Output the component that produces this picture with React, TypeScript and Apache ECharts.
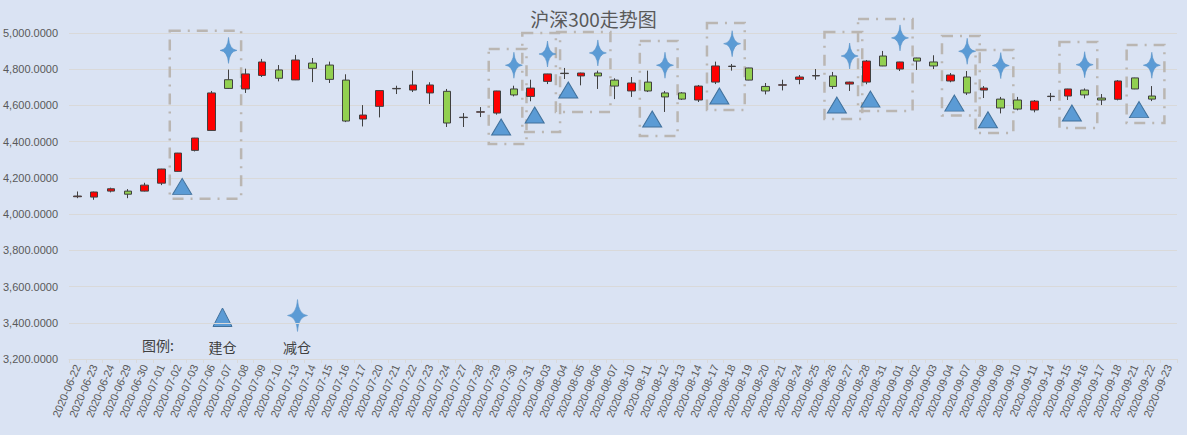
import React, { useEffect, useRef } from 'react';
import * as echarts from 'echarts';

const title = '沪深300走势图';

const dates = [
  '2020-06-22', '2020-06-23', '2020-06-24', '2020-06-29', '2020-06-30',
  '2020-07-01', '2020-07-02', '2020-07-03', '2020-07-06', '2020-07-07', '2020-07-08', '2020-07-09', '2020-07-10',
  '2020-07-13', '2020-07-14', '2020-07-15', '2020-07-16', '2020-07-17', '2020-07-20', '2020-07-21', '2020-07-22',
  '2020-07-23', '2020-07-24', '2020-07-27', '2020-07-28', '2020-07-29', '2020-07-30', '2020-07-31',
  '2020-08-03', '2020-08-04', '2020-08-05', '2020-08-06', '2020-08-07', '2020-08-10', '2020-08-11', '2020-08-12',
  '2020-08-13', '2020-08-14', '2020-08-17', '2020-08-18', '2020-08-19', '2020-08-20', '2020-08-21', '2020-08-24',
  '2020-08-25', '2020-08-26', '2020-08-27', '2020-08-28', '2020-08-31',
  '2020-09-01', '2020-09-02', '2020-09-03', '2020-09-04', '2020-09-07', '2020-09-08', '2020-09-09', '2020-09-10',
  '2020-09-11', '2020-09-14', '2020-09-15', '2020-09-16', '2020-09-17', '2020-09-18', '2020-09-21', '2020-09-22',
  '2020-09-23',
];

const opens = [
  4096, 4094, 4127, 4127, 4127,
  4171, 4236, 4352, 4462, 4742, 4691, 4766, 4796,
  4741, 4834, 4823, 4740, 4525, 4595, 4692, 4685,
  4669, 4678, 4533, 4563, 4558, 4691, 4650,
  4733, 4776, 4763, 4779, 4740, 4680, 4729, 4669,
  4669, 4630, 4729, 4815, 4807, 4705, 4712, 4744,
  4763, 4763, 4718, 4729, 4873,
  4801, 4862, 4840, 4735, 4757, 4685, 4635, 4630,
  4575, 4649, 4652, 4685, 4641, 4634, 4752, 4652,
  null,
];
const closes = [
  4100, 4122, 4140, 4110, 4160,
  4249, 4337, 4420, 4669, 4694, 4774, 4840, 4750,
  4851, 4805, 4744, 4514, 4547, 4682, 4694, 4713,
  4713, 4503, 4535, 4565, 4680, 4658, 4696,
  4774, 4778, 4779, 4763, 4707, 4724, 4680, 4647,
  4635, 4707, 4818, 4817, 4740, 4680, 4714, 4757,
  4765, 4705, 4729, 4845, 4818,
  4840, 4845, 4818, 4768, 4669, 4696, 4586, 4580,
  4624, 4651, 4691, 4658, 4630, 4735, 4691, 4635,
  null,
];
const lows = [
  4088, 4079, 4120, 4088, 4125,
  4160, 4234, 4346, 4460, 4691, 4669, 4757, 4733,
  4740, 4729, 4724, 4508, 4484, 4534, 4663, 4674,
  4608, 4481, 4481, 4536, 4549, 4650, 4623,
  4718, 4746, 4711, 4691, 4635, 4647, 4674, 4564,
  4630, 4619, 4718, 4792, 4739, 4661, 4683, 4717,
  4742, 4691, 4680, 4717, 4817,
  4790, 4796, 4801, 4728, 4658, 4641, 4556, 4573,
  4562, 4624, 4630, 4639, 4602, 4628, 4690, 4624,
  null,
];
const highs = [
  4125, 4124, 4146, 4138, 4173,
  4250, 4338, 4421, 4680, 4798, 4803, 4857, 4823,
  4879, 4862, 4842, 4772, 4602, 4683, 4709, 4792,
  4728, 4691, 4558, 4591, 4681, 4709, 4742,
  4775, 4807, 4781, 4792, 4750, 4757, 4792, 4680,
  4674, 4713, 4842, 4829, 4808, 4724, 4742, 4768,
  4801, 4785, 4731, 4851, 4901,
  4841, 4863, 4877, 4779, 4790, 4707, 4647, 4647,
  4630, 4669, 4692, 4694, 4663, 4740, 4753, 4707,
  null,
];

// 建仓 (build position) markers
const buyDates = [
  '2020-07-02', '2020-07-29', '2020-07-31', '2020-08-04', '2020-08-11', '2020-08-17',
  '2020-08-26', '2020-08-28', '2020-09-04', '2020-09-08', '2020-09-15', '2020-09-21',
];
const buyValues = [4153, 4481, 4547, 4685, 4525, 4652, 4602, 4635, 4613, 4521, 4558, 4577];

// 减仓 (reduce position) markers
const sellDates = [
  '2020-07-07', '2020-07-30', '2020-08-03', '2020-08-06', '2020-08-12', '2020-08-18',
  '2020-08-27', '2020-09-01', '2020-09-07', '2020-09-09', '2020-09-16', '2020-09-22',
];
const sellValues = [4904, 4822, 4884, 4890, 4822, 4941, 4873, 4973, 4899, 4820, 4825, 4822];

// dashed group boxes: start date, end date, low value, high value
const boxStarts = [
  '2020-07-02', '2020-07-29', '2020-07-31', '2020-08-04', '2020-08-11', '2020-08-17',
  '2020-08-26', '2020-08-28', '2020-09-04', '2020-09-08', '2020-09-15', '2020-09-21',
];
const boxEnds = [
  '2020-07-07', '2020-07-30', '2020-08-03', '2020-08-06', '2020-08-12', '2020-08-18',
  '2020-08-27', '2020-09-01', '2020-09-07', '2020-09-09', '2020-09-16', '2020-09-22',
];
const boxLows = [4085, 4387, 4453, 4564, 4431, 4575, 4525, 4569, 4545, 4448, 4475, 4503];
const boxHighs = [5013, 4912, 5000, 5006, 4956, 5055, 5006, 5077, 4983, 4906, 4950, 4934];

const yMin = 3200;
const yMax = 5000;
const yStep = 200;

const legendTitle = '图例:';
const buyName = '建仓';
const sellName = '减仓';

const STAR_D = 'M0,-16 Q1,-1 10,0 Q1,1 0,16 Q-1,1 -10,0 Q-1,-1 0,-16 Z';

let starRegistered = false;
function ensureStar() {
  if (starRegistered) return;
  echarts.graphic.registerShape('star4', echarts.graphic.extendPath(STAR_D, {}));
  starRegistered = true;
}

const FONT = "'Liberation Sans', 'Noto Sans CJK SC', sans-serif";
const CJK = "'Noto Sans CJK SC', sans-serif";
const BLUE = '#5B9BD5';
const BLUE_DARK = '#41719C';

export default function App() {
  const ref = useRef<HTMLDivElement>(null);

  useEffect(() => {
    if (!ref.current) return;
    ensureStar();
    const chart = echarts.init(ref.current, undefined, { renderer: 'svg' });

    const candleData = dates.map((_, i) =>
      opens[i] == null ? ['-', '-', '-', '-'] : [opens[i], closes[i], lows[i], highs[i]]
    );
    const buyData = buyDates.map((d, i) => [d, buyValues[i]]);
    const sellData = sellDates.map((d, i) => [d, sellValues[i]]);
    const boxData = boxStarts.map((d, i) => [d, boxEnds[i], boxLows[i], boxHighs[i]]);

    const option: any = {
      animation: false,
      backgroundColor: '#dae3f3',
      title: {
        text: title,
        left: 'center',
        top: 4,
        textStyle: { fontFamily: CJK, fontSize: 19, fontWeight: 'normal', color: '#595959' },
      },
      grid: { left: 69, right: 10, top: 33, bottom: 76 },
      xAxis: {
        type: 'category',
        data: dates,
        boundaryGap: true,
        axisLine: { lineStyle: { color: '#d9d9d9', width: 1 } },
        axisTick: { show: true, length: 4, lineStyle: { color: '#d9d9d9' } },
        axisLabel: {
          interval: 0,
          rotate: 67,
          margin: 6,
          color: '#595959',
          fontSize: 11,
          fontFamily: FONT,
        },
        splitLine: { show: false },
      },
      yAxis: {
        type: 'value',
        min: yMin,
        max: yMax,
        interval: yStep,
        axisLine: { show: false },
        axisTick: { show: false },
        axisLabel: {
          margin: 11,
          color: '#595959',
          fontSize: 11,
          fontFamily: FONT,
          formatter: (v: number) =>
            v.toLocaleString('en-US', { minimumFractionDigits: 4, maximumFractionDigits: 4 }),
        },
        splitLine: { lineStyle: { color: '#d9d9d9', width: 1 } },
      },
      series: [
        {
          type: 'custom',
          name: 'boxes',
          data: boxData,
          encode: { x: [0, 1], y: [2, 3] },
          z: 1,
          silent: true,
          renderItem: (params: any, api: any) => {
            const s = api.value(0);
            const e = api.value(1);
            const pTop = api.coord([s, api.value(3)]);
            const pBot = api.coord([e, api.value(2)]);
            const band = api.size([1, 0])[0];
            const x1 = pTop[0] - band * 0.5;
            const x2 = pBot[0] + band * 0.75;
            return {
              type: 'rect',
              shape: { x: x1, y: pTop[1], width: x2 - x1, height: pBot[1] - pTop[1] },
              style: {
                fill: 'none',
                stroke: '#bab6b2',
                lineWidth: 2.5,
                lineDash: [11, 7, 2, 7],
              },
            };
          },
        },
        {
          type: 'candlestick',
          name: '沪深300',
          data: candleData,
          barWidth: 8,
          z: 3,
          itemStyle: {
            color: '#ff0000',
            color0: '#92d050',
            borderColor: '#404040',
            borderColor0: '#404040',
            borderColorDoji: '#404040',
            borderWidth: 1,
          },
        },
        {
          type: 'scatter',
          name: buyName,
          data: buyData,
          symbol: 'triangle',
          symbolSize: [19, 16],
          symbolOffset: [4, 0],
          z: 4,
          itemStyle: { color: BLUE, borderColor: BLUE_DARK, borderWidth: 1, opacity: 1 },
        },
        {
          type: 'scatter',
          name: sellName,
          data: sellData,
          symbol: 'path://' + STAR_D,
          symbolSize: [17, 26],
          z: 4,
          itemStyle: {
            color: BLUE,
            opacity: 1,
            borderColor: '#4f8cc4',
            borderWidth: 0.5,
          },
        },
      ],
      graphic: [
        {
          type: 'text',
          x: 158,
          y: 345,
          style: {
            text: legendTitle,
            fontSize: 14,
            fontFamily: CJK,
            fill: '#404040',
            align: 'center',
            verticalAlign: 'middle',
          },
        },
        {
          type: 'polygon',
          shape: { points: [[213, 326.5], [232, 326.5], [222.5, 308]] },
          style: { fill: BLUE, stroke: BLUE_DARK, lineWidth: 1 },
        },
        {
          type: 'text',
          x: 222.5,
          y: 347,
          style: {
            text: buyName,
            fontSize: 14,
            fontFamily: CJK,
            fill: '#404040',
            align: 'center',
            verticalAlign: 'middle',
          },
        },
        {
          type: 'star4',
          x: 297.5,
          y: 315.5,
          scaleX: 1,
          scaleY: 1,
          style: { fill: BLUE, stroke: '#4f8cc4', lineWidth: 0.5 },
        },
        {
          type: 'text',
          x: 297,
          y: 347,
          style: {
            text: sellName,
            fontSize: 14,
            fontFamily: CJK,
            fill: '#404040',
            align: 'center',
            verticalAlign: 'middle',
          },
        },
      ],
    };

    chart.setOption(option);
    return () => {
      chart.dispose();
    };
  }, []);

  return (
    <div
      ref={ref}
      style={{ position: 'absolute', left: 0, top: 0, width: 1187, height: 435 }}
    />
  );
}
